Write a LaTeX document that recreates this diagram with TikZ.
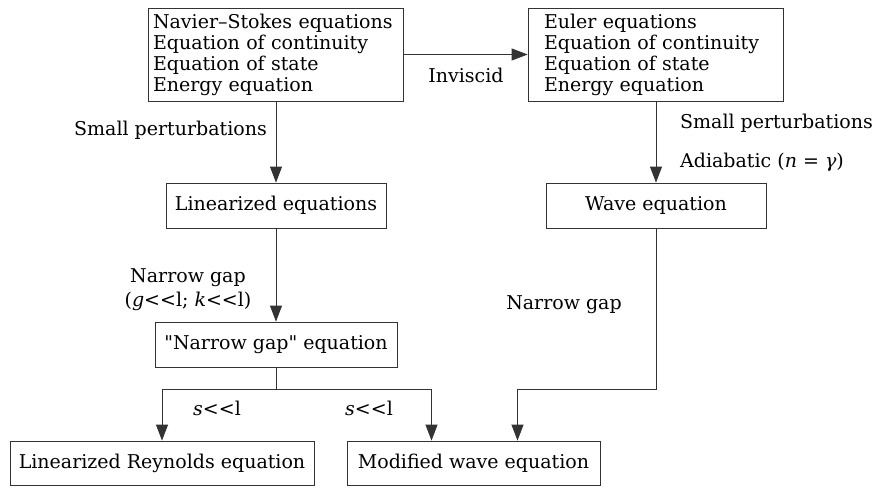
\documentclass[tikz,border=0pt]{standalone}
\usepackage{fontspec}
\setmainfont{DejaVu Serif}[Ligatures=TeXOff]
\usetikzlibrary{arrows.meta}
\begin{document}
\begin{tikzpicture}[x=1pt,y=-1pt,
  every node/.style={font=\fontsize{19}{20}\selectfont, text=black},
  conn/.style={draw=black!80, line width=0.8pt},
  arr/.style={conn, -{Triangle[length=16pt,width=12pt]}},
  box/.style={draw=black!80, line width=0.8pt, inner ysep=0pt, minimum height=45pt, minimum width=#1},
  bigbox/.style={draw=black!80, line width=0.8pt, inner ysep=0pt, align=left, minimum height=93pt, text width=#1, font=\fontsize{19}{21}\selectfont},
  lbl/.style={inner sep=0pt}
]
\useasboundingbox (0,0) rectangle (883,487);
\fill[white] (0,0) rectangle (883,487);

\node[bigbox=245pt, inner xsep=5pt] (ns) at (275.5,54.5)
  {Navier–Stokes equations\\Equation of continuity\\Equation of state\\Energy equation};
\node[bigbox=223pt, inner xsep=16pt] (eu) at (655.5,54.5)
  {Euler equations\\Equation of continuity\\Equation of state\\Energy equation};
\node[box=220pt] (lin) at (276,205.5) {Linearized equations};
\node[box=220pt] (wave) at (656,205.5) {Wave equation};
\node[box=242pt] (ng) at (276,344.5) {"Narrow gap" equation};
\node[box=304pt, minimum height=44pt] (lr) at (162,463) {Linearized Reynolds equation};
\node[box=253pt, minimum height=44pt] (mod) at (473.5,463) {Modified wave equation};

\coordinate (j) at (276,389);
\coordinate (m1) at ([xshift=-42pt]mod.north);
\coordinate (m2) at ([xshift=44pt]mod.north);

\draw[arr] (ns.east) -- (eu.west);
\draw[arr] (ns.south -| lin.north) -- (lin.north);
\draw[arr] (eu.south -| wave.north) -- (wave.north);
\draw[arr] (lin.south) -- (ng.north);
\draw[conn] (ng.south) -- (j);
\draw[arr] (j) -| (lr.north);
\draw[arr] (j) -| (m1);
\draw[arr] (wave.south) |- (j -| m2) -- (m2);

\node[lbl, anchor=east] (l1) at (267,130) {Small perturbations};
\node[lbl] (l2) at (466,75) {Inviscid};
\node[lbl, anchor=west] (l3) at (680,123) {Small perturbations};
\node[lbl, anchor=west] (l4) at (680,162) {Adiabatic (\textit{n} = \textit{γ})};
\node[lbl, align=center] (l5) at (188,290) {Narrow gap\\[4pt](\textit{g}<<l; \textit{k}<<l)};
\node[lbl] (l6) at (564,305) {Narrow gap};
\node[lbl] (l7) at (217,408) {\textit{s}<<l};
\node[lbl] (l8) at (369,408) {\textit{s}<<l};
\end{tikzpicture}
\end{document}
